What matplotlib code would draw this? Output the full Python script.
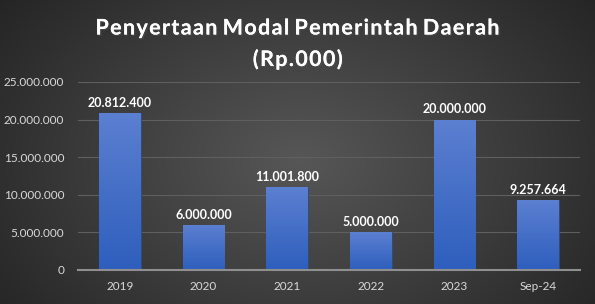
import numpy as np
import matplotlib
matplotlib.use("Agg")
import matplotlib.pyplot as plt
import matplotlib.patheffects as pe
from matplotlib.ticker import FuncFormatter

# data
categories = ["2019", "2020", "2021", "2022", "2023", "Sep-24"]
values = [20812400, 6000000, 11001800, 5000000, 20000000, 9257664]
yticks = [0, 5000000, 10000000, 15000000, 20000000, 25000000]
title1 = "Penyertaan Modal Pemerintah Daerah"
title2 = "(Rp.000)"


def fmt(v):
    return "{:,.0f}".format(v).replace(",", ".")


def spaced(s):
    # widen letter spacing with hair spaces
    return " ".join("\u200a".join(w) for w in s.split(" "))


plt.rcParams["font.family"] = ["Lato", "DejaVu Sans"]

fig = plt.figure(figsize=(5.95, 3.04), dpi=100)

# radial dark background
bg = fig.add_axes([0, 0, 1, 1], zorder=-10)
yy, xx = np.mgrid[0:304, 0:595]
r = np.sqrt(((xx - 300) / 330.0) ** 2 + ((yy - 160) / 230.0) ** 2)
shade = np.clip(0.34 - 0.17 * r, 0.14, 0.34)
bg.imshow(np.dstack([shade] * 3), aspect="auto", extent=[0, 1, 0, 1])
bg.axis("off")

ax = fig.add_axes([78 / 595, (304 - 270) / 304, 502 / 595, 188 / 304])
ax.patch.set_alpha(0)

x = np.arange(len(categories))
bars = ax.bar(x, values, width=0.5, color="#4472c4", edgecolor="#2b4a80",
              linewidth=0.6, zorder=3)

# vertical gradient on each bar
grad = np.linspace(0, 1, 256).reshape(-1, 1)
top = np.array([0.36, 0.50, 0.82])
bot = np.array([0.18, 0.37, 0.74])
img = top + (bot - top) * grad[:, :, None].repeat(1, axis=1)
for b in bars:
    x0, w, h = b.get_x(), b.get_width(), b.get_height()
    im = ax.imshow(img, extent=[x0, x0 + w, 0, h], aspect="auto", zorder=3.5)
    im.set_clip_path(b)

for xi, v in zip(x, values):
    ax.text(xi, v + 550000, fmt(v), ha="center", va="bottom", color="white",
            fontsize=9, fontweight="bold", zorder=5)

ax.set_xlim(-0.5, len(categories) - 0.5)
ax.set_ylim(0, 25000000)
ax.set_yticks(yticks)
ax.yaxis.set_major_formatter(FuncFormatter(lambda v, p: fmt(v)))
ax.set_xticks(x)
ax.set_xticklabels(categories)
ax.tick_params(colors="#d9d9d9", labelsize=8.5, length=0, pad=8)
ax.tick_params(axis="y", pad=10)
ax.grid(axis="y", color="#5f5f5f", linewidth=0.8, zorder=0)
for s in ["top", "right", "left"]:
    ax.spines[s].set_visible(False)
ax.spines["bottom"].set_color("#8f8f8f")
ax.spines["bottom"].set_linewidth(1.5)
ax.spines["bottom"].set_zorder(4)

shadow = [pe.withSimplePatchShadow(offset=(1, -1), alpha=0.6), pe.Normal()]
fig.text(0.5, 1 - 28 / 304, spaced(title1), ha="center", va="center",
         color="white", fontsize=15.5, fontweight="bold", path_effects=shadow)
fig.text(0.5, 1 - 59 / 304, spaced(title2), ha="center", va="center",
         color="white", fontsize=15.5, fontweight="bold", path_effects=shadow)

fig.savefig("out.png", dpi=100)
